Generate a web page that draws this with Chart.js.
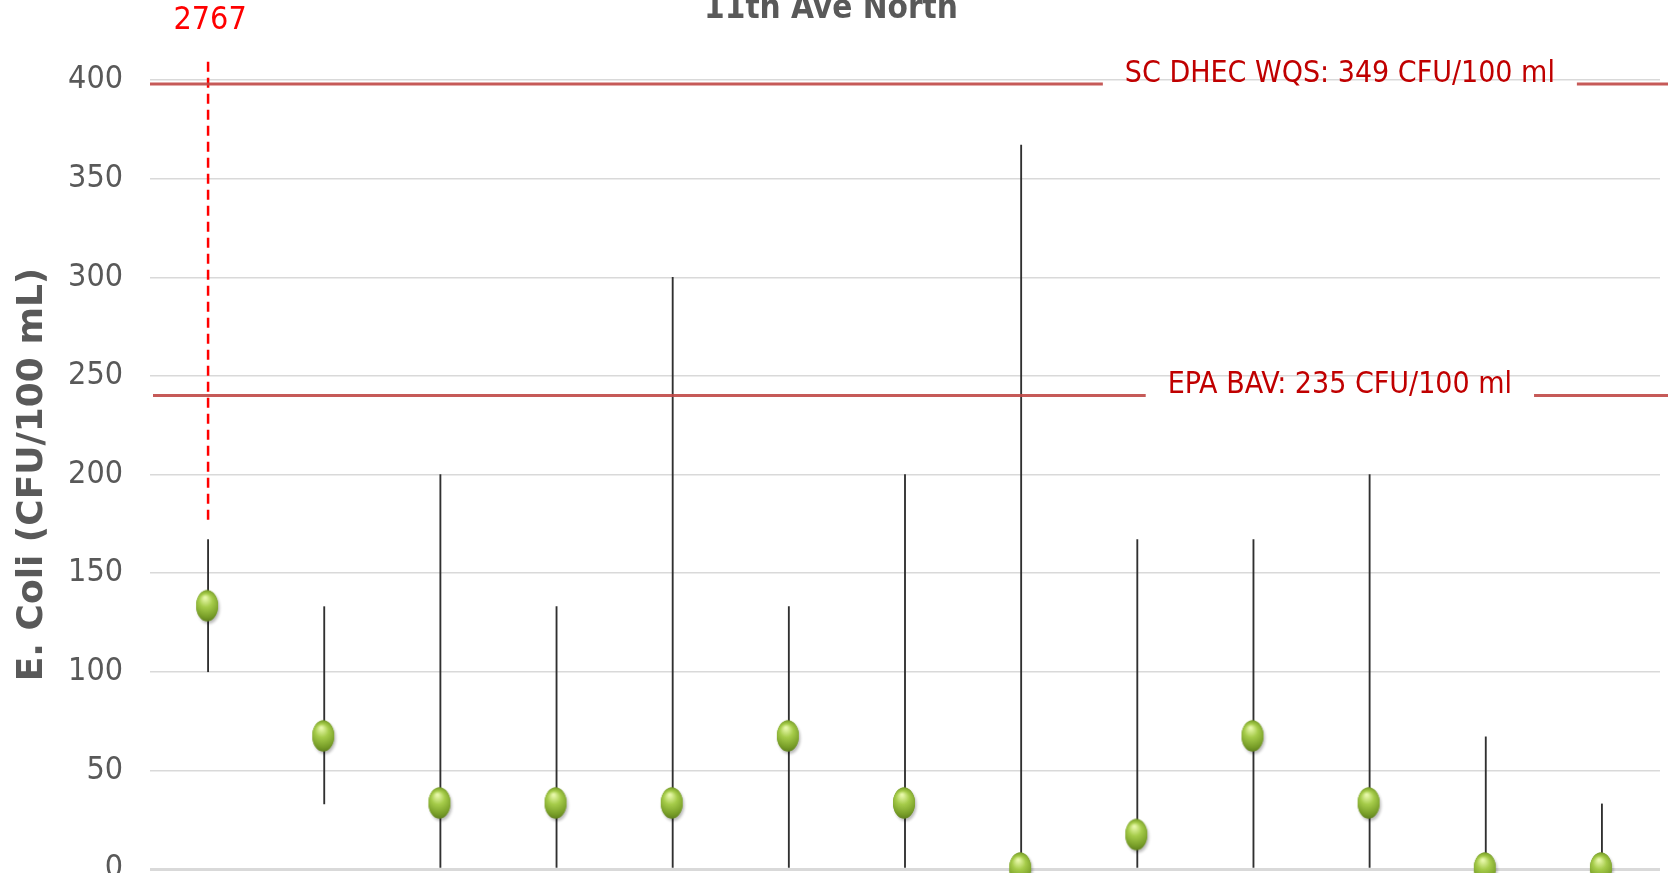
<!DOCTYPE html>
<html>
<head>
<meta charset="utf-8">
<script src="https://cdn.jsdelivr.net/npm/chart.js@4.4.1/dist/chart.umd.min.js"></script>
<style>
    html, body { margin: 0; padding: 0; background: #fff; overflow: hidden; }
    #wrap { width: 1679px; height: 873px; position: relative; }
</style>
</head>
<body>
<div id="wrap"><canvas id="ecoliChart"></canvas></div>
<script>
// Data
const categories = ['1', '2', '3', '4', '5', '6', '7', '8', '9', '10', '11', '12', '13'];
const meanValues = [133, 67, 33, 33, 33, 67, 33, 0, 17, 67, 33, 0, 0];
const minValues = [100, 33, 0, 0, 0, 0, 0, 0, 0, 0, 0, 0, 0];
const maxValues = [167, 133, 200, 133, 300, 133, 200, 367, 167, 167, 200, 67, 33];

// first sample went off the scale: dashed continuation and its real max
const offscaleIndex = 0;
const offscaleMax = 2767;
const offscaleDash = [177, 411];

const thresholdLabels = ['SC DHEC WQS: 349 CFU/100 ml', 'EPA BAV: 235 CFU/100 ml'];
const thresholdValues = [398, 240];

const yMax = 400;
const yStep = 50;

const narrowFont = "'Liberation Sans Narrow', 'DejaVu Sans Condensed', sans-serif";
const grey = '#595959';

// green glossy marker used as point image
const makeMarker = () => {
    const c = document.createElement('canvas');
    c.width = 32;
    c.height = 40;
    const g = c.getContext('2d');
    const cx = 15, cy = 19, rx = 11, ry = 15.5;
    g.save();
    g.shadowColor = 'rgba(0,0,0,0.28)';
    g.shadowBlur = 3;
    g.shadowOffsetX = 1.5;
    g.shadowOffsetY = 2.5;
    g.beginPath();
    g.ellipse(cx, cy, rx, ry, 0, 0, Math.PI * 2);
    g.fillStyle = '#6f9424';
    g.fill();
    g.restore();
    const grad = g.createRadialGradient(cx - 2, cy - 8, 1, cx, cy, ry + 2);
    grad.addColorStop(0, '#e6f7a8');
    grad.addColorStop(0.35, '#a6cc4a');
    grad.addColorStop(0.75, '#789e28');
    grad.addColorStop(1, '#56751a');
    g.beginPath();
    g.ellipse(cx, cy, rx, ry, 0, 0, Math.PI * 2);
    g.fillStyle = grad;
    g.fill();
    return c;
};

// threshold lines with a gap for their label, plus title and off-scale label
const annotationPlugin = {
    id: 'annotations',
    afterDatasetsDraw(chart) {
        const { ctx, chartArea, scales: { x, y } } = chart;
        ctx.save();
        ctx.font = `30px ${narrowFont}`;
        ctx.textBaseline = 'middle';
        ctx.textAlign = 'center';
        const textCenter = chartArea.left + chartArea.width * 0.788;
        thresholdValues.forEach((v, i) => {
            const py = y.getPixelForValue(v);
            const w = ctx.measureText(thresholdLabels[i]).width;
            ctx.strokeStyle = 'rgba(192, 72, 70, 0.9)';
            ctx.lineWidth = 3;
            ctx.beginPath();
            ctx.moveTo(chartArea.left + i * 3, py);
            ctx.lineTo(textCenter - w / 2 - 22, py);
            ctx.moveTo(textCenter + w / 2 + 22, py);
            ctx.lineTo(chartArea.right + 8, py);
            ctx.stroke();
            ctx.fillStyle = '#c00000';
            ctx.fillText(thresholdLabels[i], textCenter, py - 10);
        });

        ctx.fillStyle = '#ff0000';
        ctx.font = `32px ${narrowFont}`;
        ctx.fillText(String(offscaleMax), x.getPixelForValue(offscaleIndex) + 2, 21);

        ctx.fillStyle = grey;
        ctx.font = `bold 33px ${narrowFont}`;
        ctx.textBaseline = 'alphabetic';
        ctx.fillText('11th Ave North', 831, 18);
        ctx.restore();
    }
};

const initEcoliChart = () => {
    const ctx = document.getElementById('ecoliChart').getContext('2d');
    const marker = makeMarker();

    const data = {
        labels: categories,
        datasets: [
            {
                type: 'line',
                data: meanValues,
                showLine: false,
                pointStyle: marker,
                pointRadius: 15,
                clip: false,
                order: 0
            },
            {
                type: 'bar',
                data: categories.map((c, i) => [minValues[i], maxValues[i]]),
                backgroundColor: '#303030',
                barThickness: 1.2,
                order: 1
            },
            {
                type: 'line',
                data: offscaleDash.map(v => ({ x: categories[offscaleIndex], y: v })),
                borderColor: '#ff0000',
                borderWidth: 2.5,
                borderDash: [10, 6],
                pointRadius: 0,
                clip: false,
                order: 2
            }
        ]
    };

    const options = {
        responsive: true,
        maintainAspectRatio: false,
        animation: false,
        layout: { autoPadding: false, padding: { top: 80, right: 19, bottom: 4, left: 0 } },
        plugins: {
            legend: { display: false },
            tooltip: { enabled: false }
        },
        scales: {
            x: {
                display: false,
                offset: true
            },
            y: {
                min: 0,
                max: yMax,
                afterFit: (scale) => {
                    scale.width = 150;
                    scale.paddingTop = 0;
                    scale.paddingBottom = 0;
                },
                ticks: {
                    stepSize: yStep,
                    padding: 27,
                    color: grey,
                    font: { family: narrowFont, size: 32 }
                },
                grid: {
                    color: '#d9d9d9',
                    lineWidth: (c) => (c.tick && c.tick.value === 0 ? 3 : 1.5),
                    drawTicks: false
                },
                border: { display: false },
                title: {
                    display: true,
                    text: 'E. Coli (CFU/100 mL)',
                    color: grey,
                    padding: { top: 11, bottom: 0 },
                    font: { family: "'DejaVu Sans', sans-serif", size: 36, weight: 'bold' }
                }
            }
        }
    };

    new Chart(ctx, {
        type: 'bar',
        data,
        options,
        plugins: [annotationPlugin]
    });
};

document.addEventListener('DOMContentLoaded', () => {
    initEcoliChart();
});
</script>
</body>
</html>
